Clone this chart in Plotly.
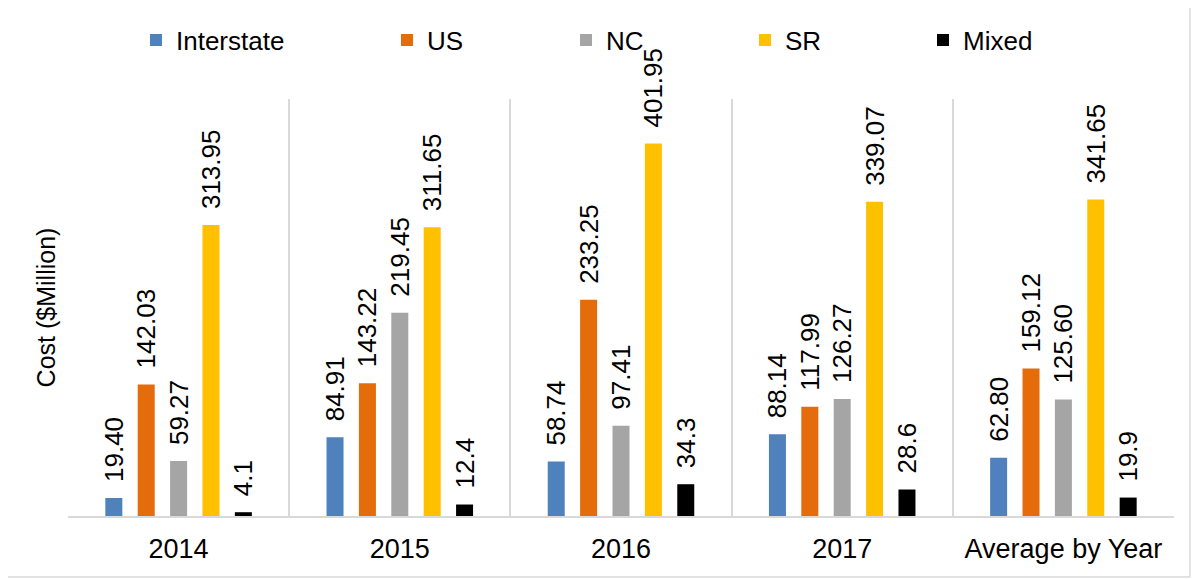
import plotly.graph_objects as go

categories = ["2014", "2015", "2016", "2017", "Average by Year"]
series_names = ["Interstate", "US", "NC", "SR", "Mixed"]
interstate = [19.40, 84.91, 58.74, 88.14, 62.80]
us = [142.03, 143.22, 233.25, 117.99, 159.12]
nc = [59.27, 219.45, 97.41, 126.27, 125.60]
sr = [313.95, 311.65, 401.95, 339.07, 341.65]
mixed = [4.1, 12.4, 34.3, 28.6, 19.9]
label_fmt = ["%{y:.2f}", "%{y:.2f}", "%{y:.2f}", "%{y:.2f}", "%{y:.1f}"]
colors = ["#4F81BD", "#E46C0A", "#A5A5A5", "#FFC000", "#000000"]

values = [interstate, us, nc, sr, mixed]

FONT = "Arial, Liberation Sans, sans-serif"
OFF = 8  # page body margin
W, H = 1202 - OFF, 579 - OFF
L = 68 - OFF
T = 99 - OFF
R = W - (1174 - OFF)
B = H - (516 - OFF)
PW, PH = W - L - R, H - T - B


def px_x(p):
    return (p - OFF - L) / PW


def px_y(p):
    return (H - B - (p - OFF)) / PH


# legend text starting positions on screen (px)
legend_text_x = [176, 427, 606, 785, 963]

fig = go.Figure()
legend_ids = ["legend", "legend2", "legend3", "legend4", "legend5"]
for name, vals, col, fmt, lid in zip(series_names, values, colors, label_fmt, legend_ids):
    fig.add_trace(go.Bar(
        name=name, x=categories, y=vals,
        marker=dict(color=col, line=dict(width=0)),
        texttemplate="\u2002" + fmt, textposition="outside", textangle=-90,
        constraintext="none", cliponaxis=False,
        textfont=dict(family=FONT, size=26, color="#000000"),
        legend=lid,
    ))

legend_layouts = {}
for lid, tx in zip(legend_ids, legend_text_x):
    legend_layouts[lid] = dict(
        orientation="h", x=px_x(tx - 40), xanchor="left",
        y=px_y(40), yanchor="middle",
        font=dict(family=FONT, size=26, color="#000000"),
        itemwidth=30, bgcolor="rgba(0,0,0,0)", borderwidth=0,
    )

fig.update_layout(
    width=W, height=H,
    margin=dict(l=L, r=R, t=T, b=B, autoexpand=False),
    paper_bgcolor="white", plot_bgcolor="white",
    font=dict(family=FONT, size=25, color="#000000"),
    barmode="group", bargap=0.268, bargroupgap=0.475,
    showlegend=True,
    xaxis=dict(type="category", tickson="boundaries", showgrid=True,
               gridcolor="#D9D9D9", gridwidth=2, ticks="", showline=True,
               linecolor="#D9D9D9", linewidth=2, ticklabelstandoff=8,
               tickfont=dict(family=FONT, size=27, color="#000000"),
               fixedrange=True),
    yaxis=dict(range=[0, 450], showticklabels=False, showgrid=False,
               zeroline=False, showline=False, ticks="",
               title=dict(text="Cost ($Million)", standoff=4,
                          font=dict(family=FONT, size=25, color="#000000")),
               fixedrange=True),
    shapes=[
        dict(type="line", xref="paper", yref="paper",
             x0=px_x(1190), x1=px_x(1190), y0=px_y(577), y1=px_y(OFF),
             line=dict(color="#D9D9D9", width=1.5)),
        dict(type="line", xref="paper", yref="paper",
             x0=px_x(OFF), x1=px_x(1190), y0=px_y(577), y1=px_y(577),
             line=dict(color="#D9D9D9", width=1.5)),
    ],
    **legend_layouts,
)

fig.write_html("out.html")
